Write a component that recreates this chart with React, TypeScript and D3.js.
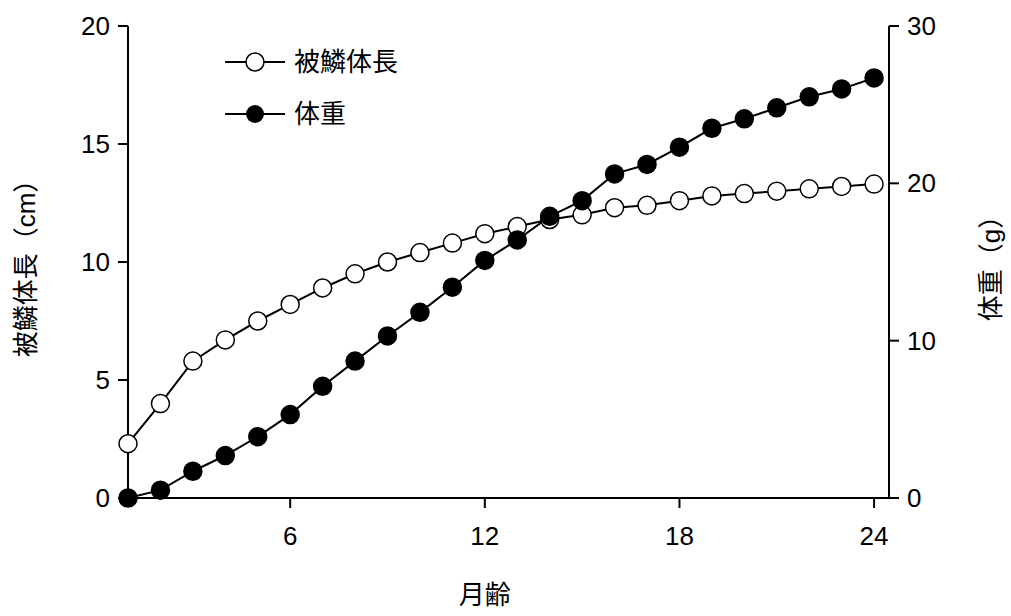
import * as d3 from "d3";

const months = d3.range(1, 25);
const bodyLength = [2.3, 4.0, 5.8, 6.7, 7.5, 8.2, 8.9, 9.5, 10.0, 10.4, 10.8, 11.2, 11.5, 11.8, 12.0, 12.3, 12.4, 12.6, 12.8, 12.9, 13.0, 13.1, 13.2, 13.3];
const bodyWeight = [0, 0.5, 1.7, 2.7, 3.9, 5.3, 7.1, 8.7, 10.3, 11.8, 13.4, 15.1, 16.4, 17.9, 18.9, 20.6, 21.2, 22.3, 23.5, 24.1, 24.8, 25.5, 26.0, 26.7];
const xTicks = [6, 12, 18, 24];
const leftTicks = [0, 5, 10, 15, 20];
const rightTicks = [0, 10, 20, 30];

const W = 1011, H = 616;
const left = 128, right = 889, top = 26, bottom = 498;
const font = "'Liberation Sans', Arial, 'Noto Sans CJK JP', sans-serif";

export default function App() {
  const x = d3.scaleLinear().domain([1, 24.46]).range([left, right]);
  const yL = d3.scaleLinear().domain([0, 20]).range([bottom, top]);
  const yR = d3.scaleLinear().domain([0, 30]).range([bottom, top]);
  const lineL = d3.line<number>().x((_, i) => x(months[i])).y((d) => yL(d));
  const lineR = d3.line<number>().x((_, i) => x(months[i])).y((d) => yR(d));
  const r = 9;
  return (
    <svg width={W} height={H} style={{ position: "absolute", left: 0, top: 0 }} fontFamily={font}>
      <rect width={W} height={H} fill="#fff" />
      <g stroke="#000" strokeWidth={2}>
        <line x1={left} x2={left} y1={top} y2={bottom} />
        <line x1={right} x2={right} y1={top} y2={bottom} />
        <line x1={left} x2={right} y1={bottom} y2={bottom} />
        {leftTicks.map((t) => <line key={t} x1={left - 10} x2={left} y1={yL(t)} y2={yL(t)} />)}
        {rightTicks.map((t) => <line key={t} x1={right} x2={right + 10} y1={yR(t)} y2={yR(t)} />)}
        {xTicks.map((t) => <line key={t} x1={x(t)} x2={x(t)} y1={bottom} y2={bottom + 10} />)}
      </g>
      <g fontSize={26} fill="#000">
        {leftTicks.map((t) => <text key={t} x={left - 18} y={yL(t)} dy="0.35em" textAnchor="end">{t}</text>)}
        {rightTicks.map((t) => <text key={t} x={right + 18} y={yR(t)} dy="0.35em">{t}</text>)}
        {xTicks.map((t) => <text key={t} x={x(t)} y={bottom + 47} textAnchor="middle">{t}</text>)}
        <text x={x(12)} y={604} textAnchor="middle">月齢</text>
        <text transform={`translate(35,${(top + bottom) / 2}) rotate(-90)`} textAnchor="middle">被鱗体長（cm）</text>
        <text transform={`translate(1000,${(top + bottom) / 2}) rotate(-90)`} textAnchor="middle">体重（g）</text>
      </g>
      <path d={lineL(bodyLength)!} fill="none" stroke="#000" strokeWidth={2} />
      <path d={lineR(bodyWeight)!} fill="none" stroke="#000" strokeWidth={2} />
      {bodyLength.map((d, i) => <circle key={"l" + i} cx={x(months[i])} cy={yL(d)} r={r} fill="#fff" stroke="#000" strokeWidth={1.5} />)}
      {bodyWeight.map((d, i) => <circle key={"w" + i} cx={x(months[i])} cy={yR(d)} r={r} fill="#000" stroke="#000" strokeWidth={1.5} />)}
      <g fontSize={26}>
        <line x1={225} x2={285} y1={62} y2={62} stroke="#000" strokeWidth={2} />
        <circle cx={255} cy={62} r={r} fill="#fff" stroke="#000" strokeWidth={1.5} />
        <text x={294} y={62} dy="0.35em">被鱗体長</text>
        <line x1={225} x2={285} y1={114} y2={114} stroke="#000" strokeWidth={2} />
        <circle cx={255} cy={114} r={r} fill="#000" />
        <text x={294} y={114} dy="0.35em">体重</text>
      </g>
    </svg>
  );
}
